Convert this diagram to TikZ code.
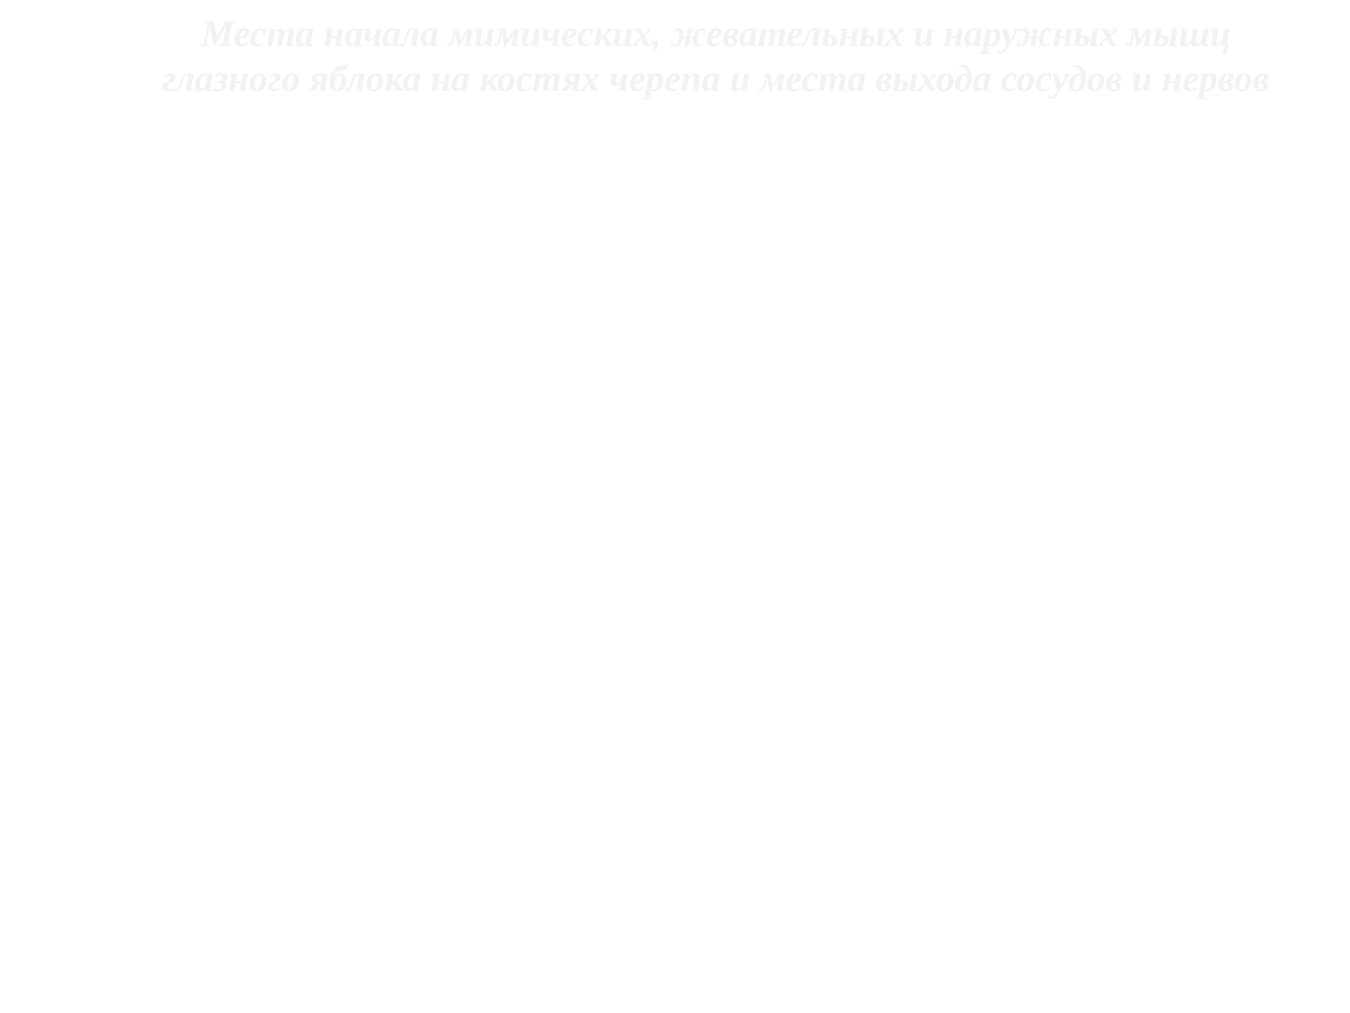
\documentclass[tikz,border=0pt]{standalone}
\usepackage{fontspec}
\setmainfont{Liberation Serif}
\usepackage{xcolor}
\usepackage{tikz}
\definecolor{titlegray}{RGB}{242,242,242}

\begin{document}
\begin{tikzpicture}[
  heading/.style={inner sep=0pt, anchor=base, text=titlegray,
                  font=\fontsize{10.65pt}{12.6pt}\selectfont\bfseries\itshape}
]
% Page frame
\useasboundingbox (0,0) rectangle (13.5,-10.12);

% Title, two lines
\node[heading] (title1) at (7.16,-0.467) {Места начала мимических, жевательных и наружных мышц};
\node[heading] (title2) at (7.16,-0.91) {глазного яблока на костях черепа и места выхода сосудов и нервов};

\end{tikzpicture}
\end{document}
